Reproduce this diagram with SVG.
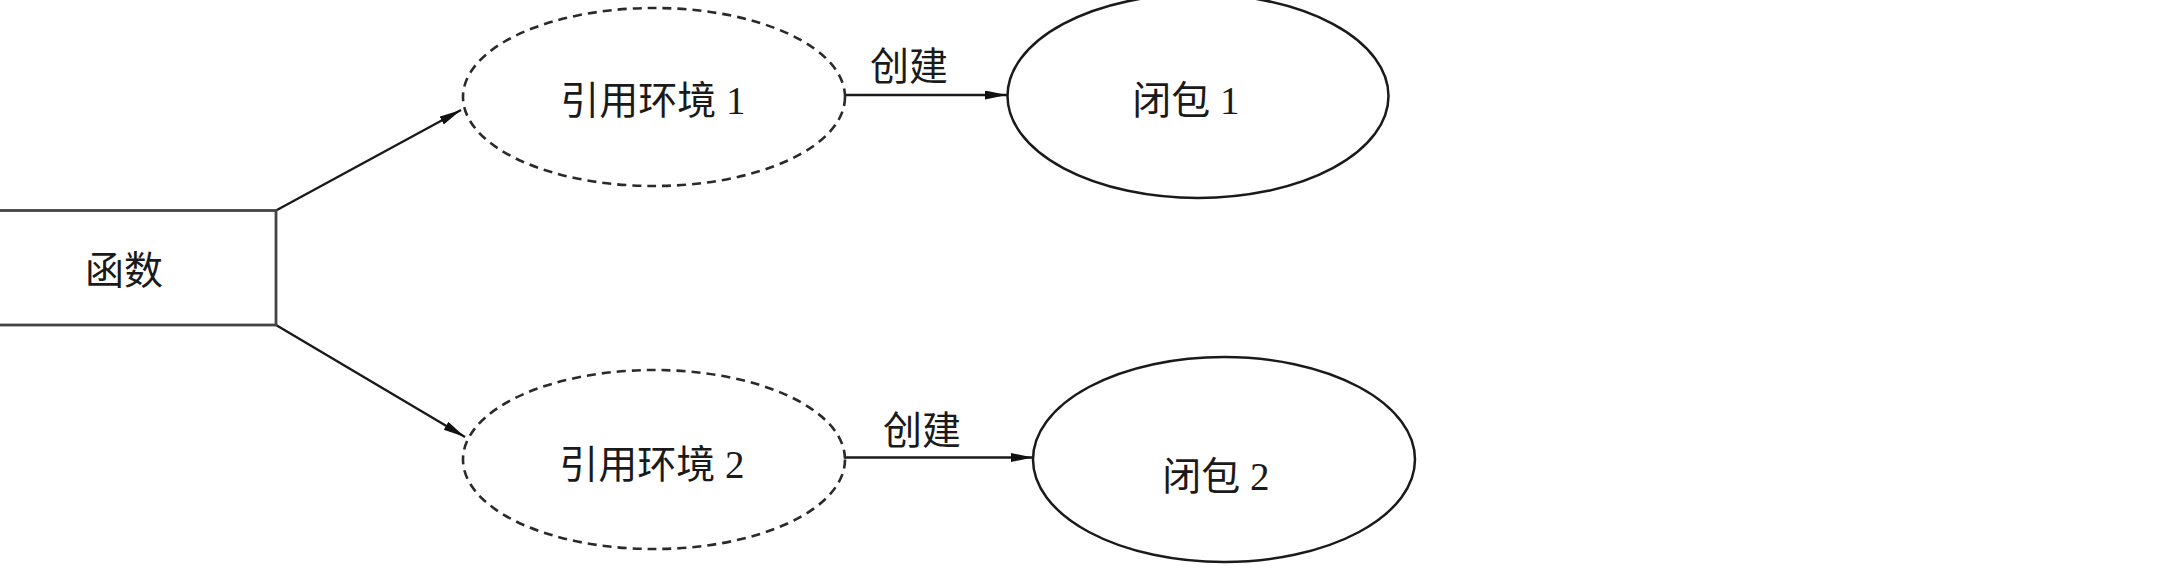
<svg xmlns="http://www.w3.org/2000/svg" width="2164" height="574" viewBox="0 0 2164 574">
<style>
.lbl{font-family:"Liberation Serif","Noto Sans CJK SC",serif;font-size:39px;fill:#1a1a1a;text-anchor:middle}
.dash{fill:none;stroke:#2a2a2a;stroke-width:2.6;stroke-dasharray:9 6}
.solid{fill:none;stroke:#1a1a1a;stroke-width:2.5}
.box{fill:#fff;stroke:#444;stroke-width:2.8}
.conn{fill:none;stroke:#1a1a1a;stroke-width:2.4}
</style>
<defs>
<marker id="arr" markerUnits="userSpaceOnUse" markerWidth="24" markerHeight="10" refX="22" refY="4.5" orient="auto">
<path d="M0,0 L22,4.5 L0,9 z" fill="#111"/>
</marker>
</defs>
<rect width="2164" height="574" fill="#fff"/>
<g id="connectors">
<line class="conn" x1="276" y1="210.5" x2="461" y2="110" marker-end="url(#arr)"/>
<line class="conn" x1="276" y1="325" x2="465" y2="437" marker-end="url(#arr)"/>
<line class="conn" x1="845" y1="95" x2="1007" y2="95" marker-end="url(#arr)"/>
<text class="lbl" x="909" y="80">创建</text>
<line class="conn" x1="845" y1="457.5" x2="1033" y2="457.5" marker-end="url(#arr)"/>
<text class="lbl" x="922" y="444">创建</text>
</g>
<g id="func">
<rect class="box" x="-5" y="210.5" width="281" height="114.5"/>
<text class="lbl" x="124" y="284">函数</text>
</g>
<g id="env1">
<ellipse class="dash" cx="654" cy="97" rx="191" ry="89"/>
<text class="lbl" x="653" y="114">引用环境 1</text>
</g>
<g id="env2">
<ellipse class="dash" cx="654" cy="459.5" rx="191" ry="89.5"/>
<text class="lbl" x="652" y="478">引用环境 2</text>
</g>
<g id="closure1">
<ellipse class="solid" cx="1198" cy="96" rx="190.5" ry="102"/>
<text class="lbl" x="1186" y="114">闭包 1</text>
</g>
<g id="closure2">
<ellipse class="solid" cx="1224" cy="459.5" rx="191" ry="102.5"/>
<text class="lbl" x="1216" y="490">闭包 2</text>
</g>
</svg>
